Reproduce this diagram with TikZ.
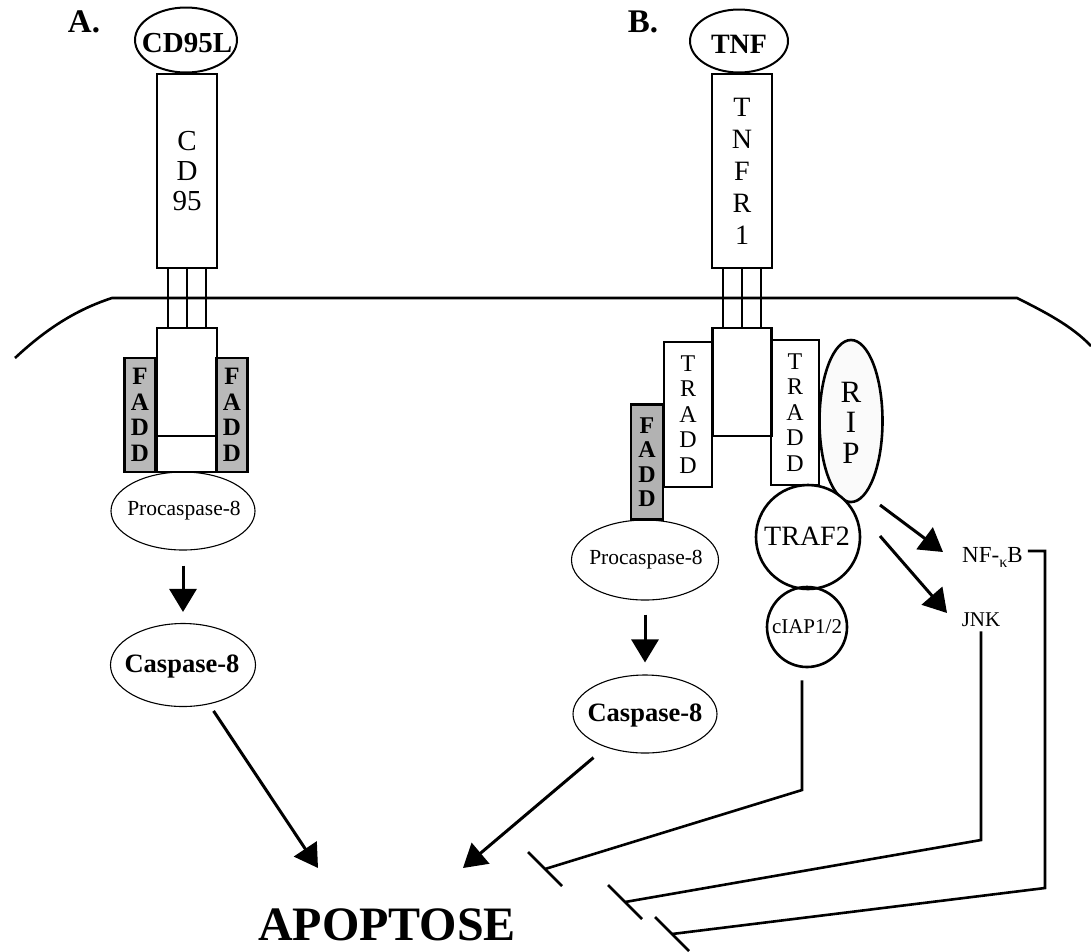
\documentclass[tikz,border=0pt]{standalone}
\usepackage{fontspec}
\setmainfont{Liberation Serif}
\usetikzlibrary{shapes.geometric,arrows.meta}
\newcommand{\fs}[2]{\fontsize{#1}{#2}\selectfont}
\begin{document}
\begin{tikzpicture}[x=1pt,y=-1pt,
  box/.style={draw, line width=2.6pt, rectangle, inner sep=0pt},
  fadd/.style={box, fill=gray!55, font=\bfseries\fs{25}{25.5}, align=center},
  lig/.style={draw, ellipse, line width=2pt, inner sep=0pt},
  casp/.style={draw, ellipse, line width=1.1pt, inner sep=0pt},
  ring/.style={draw, circle, line width=2.6pt, inner sep=0pt},
  arr/.style={line width=3pt, -{Triangle[length=23pt,width=27pt]}},
  inh/.style={line width=2.6pt},
  lbl/.style={inner sep=0pt},
]
\path[use as bounding box] (0,0) rectangle (1091,951);

% membrane
\draw[line width=2.6pt] (15,358) .. controls (45,330) and (75,310) .. (112,298) -- (1017,298) .. controls (1045,312) and (1072,326) .. (1091,346);

% ---------------- Panel A ----------------
\node[lbl, font=\bfseries\fs{33}{33}] (labA) at (84,22) {A.};
\node[lig, minimum width=102pt, minimum height=65pt] (cd95l) at (186,40) {};
\node[lbl, font=\bfseries\fs{29}{29}] (cd95lt) at (187,43) {CD95L};
\node[box, minimum width=60pt, minimum height=194pt, font=\fs{29}{30}, align=center] (cd95) at (187,171) {C\\D\\95};
\node[box, minimum width=60pt, minimum height=144pt] (cdin) at (187,400) {};
\draw[line width=2.6pt] ([yshift=-36pt]cdin.west) -- ([yshift=-36pt]cdin.east);
\foreach \d in {-19,0,19}
  \draw[line width=2.6pt] ([xshift=\d pt]cd95.south) -- ([xshift=\d pt]cdin.north);
\node[fadd, minimum width=31pt, minimum height=114pt] (faddA1) at (140,415) {F\\A\\D\\D};
\node[fadd, minimum width=31pt, minimum height=114pt] (faddA2) at (232,415) {F\\A\\D\\D};

\node[casp, minimum width=144pt, minimum height=78pt] (procA) at (183,511) {};
\node[lbl, font=\fs{21.5}{21.5}] (procAt) at (184,511) {Procaspase-8};
\node[casp, minimum width=145pt, minimum height=83pt] (caspA) at (183,665) {};
\node[lbl, font=\bfseries\fs{26.5}{26.5}] (caspAt) at (182,666) {Caspase-8};
\draw[arr, shorten <=15pt, shorten >=11pt] (procA) -- (caspA);

% APOPTOSE
\node[lbl, font=\bfseries\fs{48}{48}] (apo) at (387,925) {APOPTOSE};
\coordinate (apA) at (318,868);
\coordinate (apB) at (463,868);
\draw[arr, shorten <=8pt] (caspA) -- (apA);

% ---------------- Panel B ----------------
\node[lbl, font=\bfseries\fs{33}{33}] (labB) at (643,22) {B.};
\node[lig, minimum width=98pt, minimum height=63pt] (tnf) at (739,41) {};
\node[lbl, font=\bfseries\fs{28}{28}] (tnft) at (739,44) {TNF};
\node[box, minimum width=60pt, minimum height=194pt, font=\fs{28}{32}, align=center] (tnfr) at (742,171) {T\\N\\F\\R\\1};
\node[box, minimum width=59pt, minimum height=108pt] (tnfin) at (742,382) {};
\foreach \d in {-19,0,19}
  \draw[line width=2.6pt] ([xshift=\d pt]tnfr.south) -- ([xshift=\d pt]tnfin.north);
\node[box, minimum width=48pt, minimum height=145pt, font=\fs{24}{25.5}, align=center] (traddL) at (688,414.5) {T\\R\\A\\D\\D};
\node[box, minimum width=48pt, minimum height=145pt, font=\fs{24}{25.5}, align=center] (traddR) at (795,412.5) {T\\R\\A\\D\\D};
\node[fadd, minimum width=32pt, minimum height=115pt, fill=gray!60, font=\bfseries\fs{24}{24.5}] (faddB) at (647,462) {F\\A\\D\\D};

\node[draw, ellipse, line width=2.6pt, fill=gray!4, minimum width=63pt, minimum height=162pt, inner sep=0pt] (rip) at (851,421) {};
\node[lbl, font=\fs{31}{30.5}, align=center] (ript) at (851,422.5) {R\\I\\P};

\node[ring, minimum size=104pt, fill=white] (traf2) at (808,537) {};
\node[lbl, font=\fs{28}{28}] (traf2t) at (807,536) {TRAF2};
\node[ring, minimum size=80pt] (ciap) at (807,627) {};
\node[lbl, font=\fs{21}{21}] (ciapt) at (807,627) {cIAP1/2};

\node[casp, minimum width=147pt, minimum height=80pt] (procB) at (645,560) {};
\node[lbl, font=\fs{21.5}{21.5}] (procBt) at (646,560) {Procaspase-8};
\node[casp, minimum width=144pt, minimum height=78pt] (caspB) at (645,714) {};
\node[lbl, font=\bfseries\fs{26.5}{26.5}] (caspBt) at (645,715) {Caspase-8};
\draw[arr, shorten <=14pt, shorten >=12pt] (procB) -- (caspB);
\draw[arr, shorten <=16pt] (caspB) -- (apB);

% NF-kB and JNK
\node[lbl, anchor=base west, font=\fs{23}{23}] (nfkb) at (962,562) {NF-\raisebox{-5pt}{\fs{16}{16}κ}B};
\node[lbl, anchor=base, font=\fs{21}{21}] (jnk) at (981,626) {JNK};
\coordinate (s1) at (880,505); \coordinate (t1) at (943,552);
\coordinate (s2) at (880,536); \coordinate (t2) at (947,613);
\draw[arr] (s1) -- (t1);
\draw[arr] (s2) -- (t2);

% inhibition lines
\coordinate (cb) at (802,790); \coordinate (ce) at (545,869);
\draw[inh] ([xshift=-5pt,yshift=-12pt]ciap.south) -- (cb) -- (ce);
\draw[inh] ([shift={(-17,-17)}]ce) -- ([shift={(17,17)}]ce);

\coordinate (jb) at (981,840); \coordinate (je) at (625,902);
\draw[inh] ([yshift=-5pt]jnk.south) -- (jb) -- (je);
\draw[inh] ([shift={(-17,-17)}]je) -- ([shift={(17,17)}]je);

\coordinate (nfs) at ([xshift=5pt,yshift=11pt]nfkb.base east);
\coordinate (nb) at (1045,888); \coordinate (ne) at (672,934);
\draw[inh] (nfs) -- (nfs -| nb) -- (nb) -- (ne);
\draw[inh] ([shift={(-17,-17)}]ne) -- ([shift={(17,17)}]ne);
\end{tikzpicture}
\end{document}
